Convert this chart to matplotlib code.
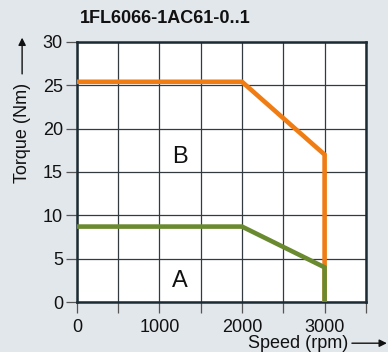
import matplotlib
matplotlib.use("Agg")
import matplotlib.pyplot as plt

title = "1FL6066-1AC61-0..1"
speed_B = [0, 2000, 3000, 3000]
torque_B = [25.4, 25.4, 17.0, 0]
speed_A = [0, 2000, 3000, 3000]
torque_A = [8.7, 8.7, 4.0, 0]
xticks = [0, 500, 1000, 1500, 2000, 2500, 3000, 3500]
xticklabels = ["0", "", "1000", "", "2000", "", "3000", ""]
yticks = [0, 5, 10, 15, 20, 25, 30]

bg = "#e2e7eb"
dark = "#1c2a33"
orange = "#f07d14"
green = "#6a8a2f"

plt.rcParams['font.family'] = ['Liberation Sans', 'DejaVu Sans']
fig = plt.figure(figsize=(3.88, 3.52), dpi=100, facecolor=bg)
ax = fig.add_axes([0.198, 0.142, 0.745, 0.739])
ax.set_facecolor("white")

ax.plot(speed_B, torque_B, color=orange, lw=3.3, solid_joinstyle='miter', zorder=3)
ax.plot(speed_A, torque_A, color=green, lw=3.3, solid_joinstyle='miter', zorder=4)

ax.set_xlim(0, 3500)
ax.set_ylim(0, 30)
ax.set_xticks(xticks)
ax.set_xticklabels(xticklabels)
ax.set_yticks(yticks)
ax.grid(True, color="#333b40", lw=0.9, zorder=1)
ax.set_axisbelow(True)
for s in ax.spines.values():
    s.set_color(dark)
    s.set_linewidth(1.8)
ax.tick_params(axis='both', direction='out', length=8, width=0.9, color="#555",
               labelsize=13, labelcolor="#111")
ax.tick_params(axis='y', pad=2)
ax.tick_params(axis='x', pad=4)

ax.text(1250, 16.7, "B", fontsize=17, ha='center', va='center', color="#111")
ax.text(1250, 2.4, "A", fontsize=17, ha='center', va='center', color="#111")

fig.text(0.206, 0.948, title, fontsize=13, fontweight='bold', ha='left', va='center', color="#111")

# y label with arrow
fig.text(0.057, 0.622, "Torque (Nm)", rotation=90, fontsize=13, ha='center', va='center', color="#111")
fig.add_artist(matplotlib.patches.FancyArrowPatch((0.057, 0.79), (0.057, 0.893),
               transform=fig.transFigure, arrowstyle='-|>', mutation_scale=11, lw=1.0,
               color="#111", shrinkA=0, shrinkB=0))
# x label with arrow
fig.text(0.897, 0.025, "Speed (rpm)", fontsize=13, ha='right', va='center', color="#111")
fig.add_artist(matplotlib.patches.FancyArrowPatch((0.907, 0.025), (0.997, 0.025),
               transform=fig.transFigure, arrowstyle='-|>', mutation_scale=11, lw=1.0,
               color="#111", shrinkA=0, shrinkB=0))

fig.savefig("out.png", dpi=100, facecolor=bg)
